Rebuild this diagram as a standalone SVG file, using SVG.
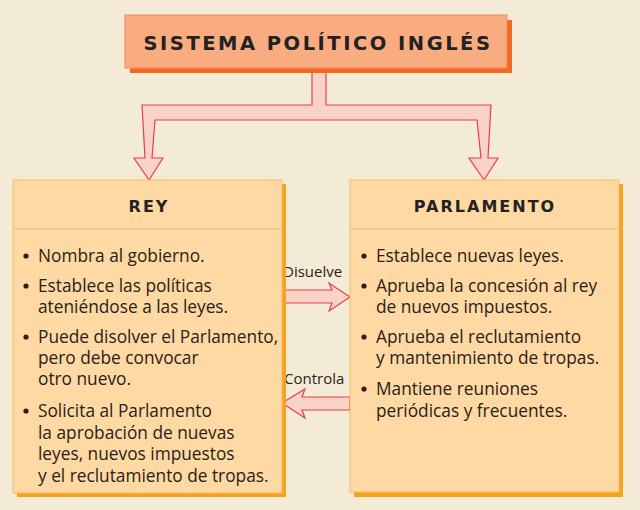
<svg xmlns="http://www.w3.org/2000/svg" width="640" height="510" viewBox="0 0 640 510">
<defs>
<style>
.bg{fill:#f4ebd6}
.tsh{fill:#f26a22}
.tbox{fill:#f9ac80;stroke:#ee8a5c;stroke-width:1}
.bsh{fill:#f5a21e}
.box{fill:#fed9a3;stroke:#f2bb66;stroke-width:1}
.sep{stroke:#f2bb66;stroke-width:1.2}
.arr{fill:#fad2c6;stroke:#e2404e;stroke-width:1.2;stroke-linejoin:miter}
.title{font-family:"DejaVu Sans","Liberation Sans",sans-serif;font-weight:bold;font-size:19.5px;letter-spacing:2.5px;fill:#222;text-anchor:middle}
.head{font-family:"DejaVu Sans","Liberation Sans",sans-serif;font-weight:bold;font-size:16px;letter-spacing:2px;fill:#222;text-anchor:middle}
.txt{font-family:"Open Sans","Liberation Sans",sans-serif;font-size:17.3px;fill:#2a2118}
.lbl{font-family:"Open Sans","Liberation Sans",sans-serif;font-size:15px;fill:#2a2118}
.dot{fill:#2a2118}
</style>
</defs>
<rect class="bg" x="0" y="0" width="640" height="510"/>

<g id="connectors">
<path class="arr" d="M312,68 L312,105 L142,105 L145,158 L134,158 L149,180 L163,158 L152,158 L155,120 L477,120 L481,158 L469,158 L484,180 L498,158 L488,158 L491,105 L326,105 L326,68 Z"/>
<g id="disuelve">
<path class="arr" d="M282,290 L332,290 L329,283 L350,297 L329,311 L332,303 L282,303 Z"/>
<text class="lbl" x="283" y="277">Disuelve</text>
</g>
<g id="controla">
<path class="arr" d="M350,397 L302,397 L305,389 L282,403 L305,418 L302,410 L350,410 Z"/>
<text class="lbl" x="284" y="384">Controla</text>
</g>
</g>

<g id="title">
<rect class="tsh" x="130" y="20" width="382" height="53"/>
<rect class="tbox" x="125" y="15" width="382" height="53"/>
<text class="title" x="318" y="50">SISTEMA POLÍTICO INGLÉS</text>
</g>

<g id="rey">
<rect class="bsh" x="17" y="184" width="269" height="313"/>
<rect class="box" x="13" y="180" width="269" height="313"/>
<line class="sep" x1="13" y1="229" x2="282" y2="229"/>
<text class="head" x="149" y="212">REY</text>
<circle class="dot" cx="26" cy="256" r="2.6"/>
<circle class="dot" cx="26" cy="286" r="2.6"/>
<circle class="dot" cx="26" cy="337" r="2.6"/>
<circle class="dot" cx="26" cy="411" r="2.6"/>
<text class="txt" x="38" y="262">Nombra al gobierno.</text>
<text class="txt" x="38" y="292">Establece las políticas</text>
<text class="txt" x="38" y="313">ateniéndose a las leyes.</text>
<text class="txt" x="38" y="343">Puede disolver el Parlamento,</text>
<text class="txt" x="38" y="364">pero debe convocar</text>
<text class="txt" x="38" y="385">otro nuevo.</text>
<text class="txt" x="38" y="417">Solicita al Parlamento</text>
<text class="txt" x="38" y="439">la aprobación de nuevas</text>
<text class="txt" x="38" y="460">leyes, nuevos impuestos</text>
<text class="txt" x="38" y="482">y el reclutamiento de tropas.</text>
</g>

<g id="parlamento">
<rect class="bsh" x="354" y="184" width="269" height="313"/>
<rect class="box" x="350" y="180" width="269" height="312"/>
<line class="sep" x1="350" y1="229" x2="619" y2="229"/>
<text class="head" x="485" y="212">PARLAMENTO</text>
<circle class="dot" cx="364" cy="256" r="2.6"/>
<circle class="dot" cx="364" cy="286" r="2.6"/>
<circle class="dot" cx="364" cy="337" r="2.6"/>
<circle class="dot" cx="364" cy="389" r="2.6"/>
<text class="txt" x="376" y="262">Establece nuevas leyes.</text>
<text class="txt" x="376" y="292">Aprueba la concesión al rey</text>
<text class="txt" x="376" y="313">de nuevos impuestos.</text>
<text class="txt" x="376" y="343">Aprueba el reclutamiento</text>
<text class="txt" x="376" y="364">y mantenimiento de tropas.</text>
<text class="txt" x="376" y="395">Mantiene reuniones</text>
<text class="txt" x="376" y="417">periódicas y frecuentes.</text>
</g>
</svg>
